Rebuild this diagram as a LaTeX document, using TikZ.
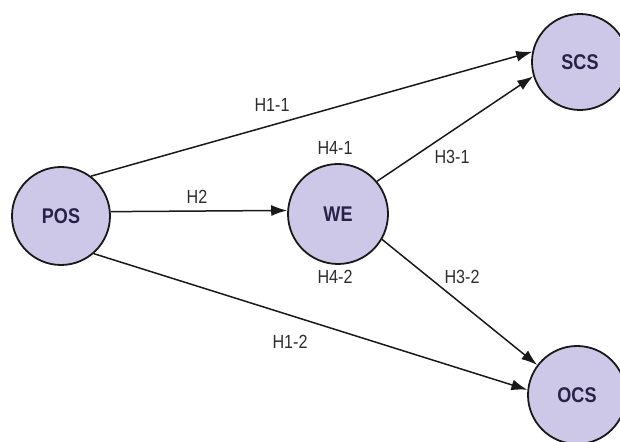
\documentclass[tikz,border=0pt]{standalone}
\usepackage{fontspec}
\setmainfont{Liberation Sans}
\usetikzlibrary{arrows.meta}
\definecolor{nodefill}{RGB}{206,200,232}
\definecolor{nodetext}{RGB}{40,34,72}
\definecolor{labeltext}{RGB}{45,45,45}
\tikzset{
  construct/.style={circle, draw=black!90, line width=1.8pt, fill=nodefill,
    text=nodetext, font=\fontsize{19}{21}\selectfont\bfseries, inner sep=0pt},
  link/.style={line width=1.5pt, draw=black!90, -{Latex[length=16pt,width=11pt]}},
  hyp/.style={font=\fontsize{17}{19}\selectfont, text=labeltext, inner sep=1pt}
}
\newcommand{\tallbox}[1]{\scalebox{0.95}[1.12]{#1}}
\begin{document}
\begin{tikzpicture}[x=1pt,y=1pt]
\useasboundingbox (0,0) rectangle (620,441);
\node[construct, minimum size=98pt] (POS) at (61,225) {\tallbox{POS}};
\node[construct, minimum size=100pt] (WE) at (338,227) {\tallbox{WE}};
\node[construct, minimum size=96pt] (SCS) at (580,379) {\tallbox{SCS}};
\node[construct, minimum size=98pt] (OCS) at (577,46) {\tallbox{OCS}};

\draw[link] (POS.53) -- (SCS.168);
\draw[link] (POS.5) -- (WE.176);
\draw[link] (POS.-49) -- (OCS.174);
\draw[link] (WE.40) -- (SCS.197);
\draw[link] (WE.-30) -- (OCS.143);

\node[hyp] (h11) at (272,336) {\tallbox{H1-1}};
\node[hyp] (h2) at (197,244) {\tallbox{H2}};
\node[hyp] (h41) at (335,293) {\tallbox{H4-1}};
\node[hyp] (h31) at (452,284) {\tallbox{H3-1}};
\node[hyp] (h42) at (335,164) {\tallbox{H4-2}};
\node[hyp] (h32) at (462,164) {\tallbox{H3-2}};
\node[hyp] (h12) at (290,99) {\tallbox{H1-2}};
\end{tikzpicture}
\end{document}
